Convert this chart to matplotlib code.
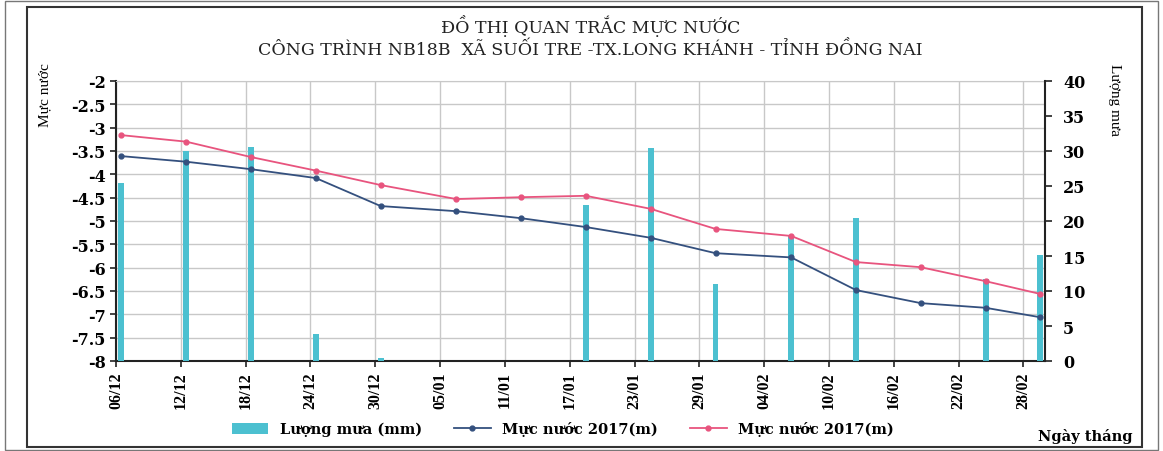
import matplotlib
matplotlib.use('Agg')
import matplotlib.pyplot as plt
import matplotlib.dates as mdates
from matplotlib.patches import Rectangle
import numpy as np
import pandas as pd

# ngay quan trac (du lieu do luc trua)
ngay = ['2016-12-06', '2016-12-12', '2016-12-18', '2016-12-24', '2016-12-30',
        '2017-01-06', '2017-01-12', '2017-01-18', '2017-01-24', '2017-01-30',
        '2017-02-06', '2017-02-12', '2017-02-18', '2017-02-24', '2017-03-01']
luong_mua = [25.5, 30.0, 30.6, 3.9, 0.4, 0.0, 0.0, 22.3, 30.4, 11.0,
             18.0, 20.5, 0.0, 11.7, 15.2]
muc_nuoc_xanh = [-3.61, -3.73, -3.89, -4.08, -4.68, -4.79, -4.94, -5.13,
                 -5.36, -5.69, -5.78, -6.48, -6.76, -6.86, -7.06]
muc_nuoc_hong = [-3.16, -3.30, -3.63, -3.92, -4.23, -4.53, -4.49, -4.46,
                 -4.74, -5.17, -5.32, -5.88, -5.99, -6.29, -6.56]
nhan_trai = np.arange(-8, -1.9, 0.5)
nhan_phai = np.arange(0, 41, 5)

title1 = 'ĐỒ THỊ QUAN TRẮC MỰC NƯỚC'
title2 = 'CÔNG TRÌNH NB18B  XÃ SUỐI TRE -TX.LONG KHÁNH - TỈNH ĐỒNG NAI'

W, H = 1163, 452
fig = plt.figure(figsize=(W / 100, H / 100), dpi=100)
fig.patch.set_facecolor('white')

x = pd.to_datetime(ngay) + pd.Timedelta(hours=12)
rect = [116 / W, 1 - 362 / H, (1045 - 116) / W, (362 - 82) / H]
serif = 'DejaVu Serif'

# truc nen: luoi + nhan trai + ngay
ax = fig.add_axes(rect)
ax.set_ylim(-8, -2)
ax.set_yticks(nhan_trai)
ax.set_yticklabels(['%g' % v for v in nhan_trai], fontfamily=serif,
                   fontweight='bold', fontsize=11.5)
ax.set_xlim(pd.Timestamp('2016-12-06'), pd.Timestamp('2017-03-02'))
ax.set_xticks(pd.date_range('2016-12-06', '2017-03-01', freq='6D'))
ax.xaxis.set_major_formatter(mdates.DateFormatter('%d/%m'))
for t in ax.get_xticklabels():
    t.set_rotation(90)
    t.set_fontfamily('Liberation Serif')
    t.set_fontweight('bold')
    t.set_fontsize(11.5)
ax.grid(True, color='#c8c8c8', lw=1)
ax.tick_params(axis='both', direction='out', length=4, width=1.2, color='#222222')
for s in ['left', 'bottom']:
    ax.spines[s].set_color('#222222')
    ax.spines[s].set_linewidth(1.5)
ax.spines['top'].set_color('#c8c8c8')
ax.spines['right'].set_visible(False)

# luong mua - truc phai
ax2 = ax.twinx()
ax2.bar(x, luong_mua, width=0.55, color='#4cc0d0', label='Lượng mưa (mm)')
ax2.set_ylim(0, 40)
ax2.set_yticks(nhan_phai)
ax2.set_yticklabels([str(v) for v in nhan_phai], fontfamily=serif,
                    fontweight='bold', fontsize=11.5)
ax2.tick_params(axis='y', direction='out', length=5, width=1.2, color='#222222', pad=8)
ax2.spines['right'].set_color('#222222')
ax2.spines['right'].set_linewidth(1.5)
for s in ['left', 'top', 'bottom']:
    ax2.spines[s].set_visible(False)

# muc nuoc - lop tren cung
ax3 = ax.twinx()
ax3.set_ylim(-8, -2)
ax3.plot(x, muc_nuoc_xanh, color='#34507e', lw=1.3, marker='o', ms=3.5,
         label='Mực nước 2017(m)')
ax3.plot(x, muc_nuoc_hong, color='#e8547e', lw=1.3, marker='o', ms=3.5,
         label='Mực nước 2017(m)')
ax3.set_yticks([])
for s in ax3.spines.values():
    s.set_visible(False)

fig.text(0.508, 1 - 26 / H, title1, ha='center', va='center',
         fontfamily=serif, fontsize=12.5, color='#222222')
fig.text(0.508, 1 - 50 / H, title2, ha='center', va='center',
         fontfamily=serif, fontsize=12.5, color='#222222')

fig.text(45 / W, 1 - 95 / H, 'Mực nước', rotation=90, ha='center', va='center',
         fontfamily='Liberation Serif', fontsize=11)
fig.text(1115 / W, 1 - 100 / H, 'Lượng mưa', rotation=270, ha='center', va='center',
         fontfamily='Liberation Serif', fontsize=11)
fig.text(1085 / W, 1 - 437 / H, 'Ngày tháng', ha='center', va='center',
         fontfamily=serif, fontweight='bold', fontsize=10.5)

h2, l2 = ax2.get_legend_handles_labels()
h3, l3 = ax3.get_legend_handles_labels()
fig.legend(h2 + h3, l2 + l3, loc='center', bbox_to_anchor=(0.484, 1 - 430 / H),
           ncol=3, frameon=False, handlelength=2.5, columnspacing=2.2,
           prop={'family': serif, 'weight': 'bold', 'size': 10.5})

# khung
fig.add_artist(Rectangle((27 / W, 1 - 448 / H), (1142 - 27) / W, (448 - 8) / H,
                         transform=fig.transFigure, fill=False, ec='#333333', lw=1.5))
fig.add_artist(Rectangle((5 / W, 1 - 451 / H), (1158 - 5) / W, (451 - 2) / H,
                         transform=fig.transFigure, fill=False, ec='#777777', lw=1))

fig.savefig('out.png', dpi=100)
